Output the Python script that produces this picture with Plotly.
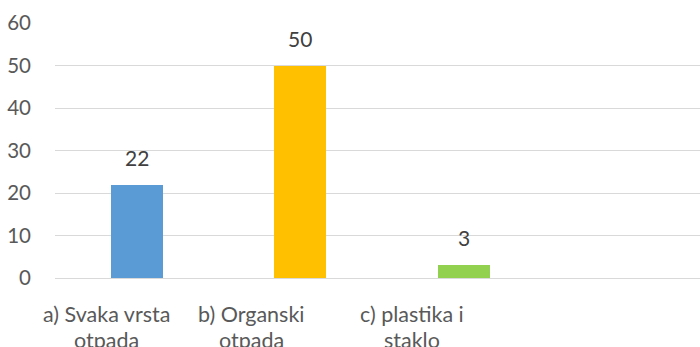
import plotly.graph_objects as go

# Survey answers: which kind of waste gets sorted
categories = ["a) Svaka vrsta<br>otpada", "b) Organski<br>otpada", "c) plastika i<br>staklo"]
values = [22, 50, 3]
colors = ["#5B9BD5", "#FFC000", "#92D050"]
y_ticks = [0, 10, 20, 30, 40, 50, 60]
# horizontal nudge of each category caption, in category units
label_offsets = [-0.188, -0.301, -0.316]

FONT = "Lato"
TEXT = "#595959"
GRID = "#D9D9D9"

xs = list(range(len(values)))

fig = go.Figure()
fig.add_trace(go.Bar(
    x=xs, y=values, width=0.318,
    marker=dict(color=colors, line=dict(width=0)),
    hoverinfo="skip",
))

annotations = []
# value labels above each bar
for x, v in zip(xs, values):
    annotations.append(dict(
        x=x, y=v, xref="x", yref="y", text=str(v), showarrow=False,
        yanchor="bottom", yshift=13,
        font=dict(family=FONT, size=21, color="#404040"),
    ))
# category captions below the axis, one annotation per line
for x, cat, off in zip(xs, categories, label_offsets):
    for i, line in enumerate(cat.split("<br>")):
        annotations.append(dict(
            x=x + off, y=0, xref="x", yref="y", text=line, showarrow=False,
            yanchor="top", yshift=-21 - 26 * i,
            font=dict(family=FONT, size=21.5, color=TEXT),
        ))

fig.update_layout(
    width=700, height=347,
    margin=dict(l=55, r=0, t=23, b=69),
    paper_bgcolor="white", plot_bgcolor="white",
    showlegend=False,
    bargap=0,
    annotations=annotations,
    xaxis=dict(
        range=[-0.5, 3.445], showticklabels=False, showgrid=False,
        zeroline=False, showline=False, fixedrange=True,
    ),
    yaxis=dict(
        range=[0, 60], tickvals=y_ticks, showgrid=True, gridcolor=GRID,
        gridwidth=1.3, zeroline=True, zerolinecolor=GRID, zerolinewidth=1.3,
        showline=False, ticks="", ticklabelstandoff=23,
        tickfont=dict(family=FONT, size=20.5, color=TEXT), fixedrange=True,
    ),
)

fig.write_html("out.html", config={"displayModeBar": False})
